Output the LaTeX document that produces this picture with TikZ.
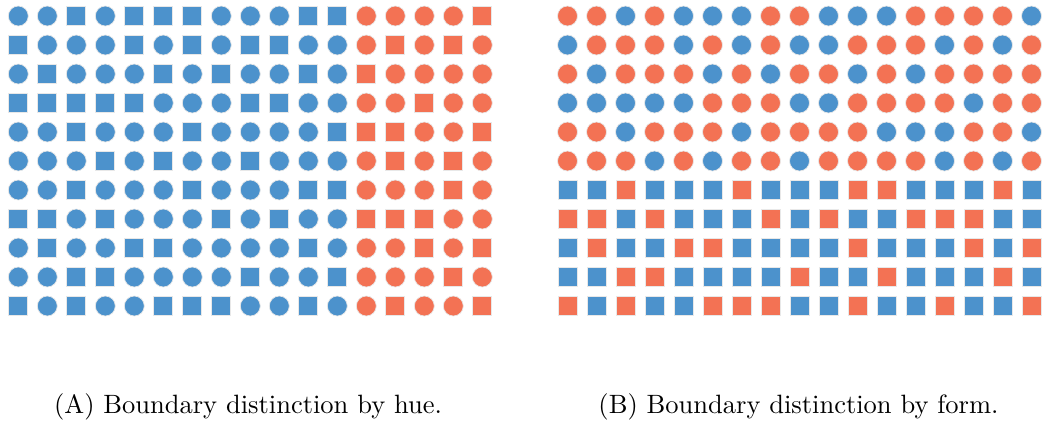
\documentclass[tikz,border=0pt]{standalone}
\usepackage{fontspec}
\setmainfont{lmroman10-regular.otf}
\usepackage{tikz}
\definecolor{hueblue}{RGB}{76,146,204}
\definecolor{hueorange}{RGB}{243,114,84}

\begin{document}
\begin{tikzpicture}[x=1pt, y=-1pt,
        shpC/.style={circle, inner sep=0pt, minimum size=20pt, draw=black!9, line width=0.7pt},
        shpS/.style={rectangle, inner sep=0pt, minimum size=19pt, draw=black!9, line width=0.7pt},
        colB/.style={fill=hueblue},
        colO/.style={fill=hueorange},
        caption/.style={anchor=base, font=\fontsize{26.5}{30}\selectfont}]
        \useasboundingbox (0,0) rectangle (1045,424);

        % (A) hue splits the field, form is random
        \foreach \line [count=\r] in {
            {C,C,S,C,S,S,S,C,C,C,S,S,C,C,C,C,S},
            {S,C,C,C,S,C,S,C,S,S,C,C,C,S,C,S,C},
            {C,S,C,C,C,S,C,S,C,C,S,C,S,C,C,C,C},
            {S,S,S,S,S,C,C,C,S,S,C,C,C,C,S,C,C},
            {C,C,S,C,C,C,S,C,C,C,C,S,S,S,C,C,S},
            {C,C,C,S,C,S,C,C,S,C,C,C,C,S,C,S,C},
            {C,C,S,C,C,C,S,C,C,C,S,S,C,C,C,S,C},
            {S,S,C,S,C,C,C,S,C,S,C,C,S,S,S,C,C},
            {C,S,C,C,S,S,C,C,C,C,S,C,C,C,S,C,S},
            {C,C,S,S,C,C,C,C,S,C,C,S,C,C,C,S,C},
            {S,C,S,C,C,S,S,S,C,C,S,C,C,S,C,C,S}} {
            \foreach \s [count=\c] in \line {
                \ifnum\c>12 \def\col{O}\else\def\col{B}\fi
                \node[shp\s, col\col] (a-\r-\c) at ({18.3+29*(\c-1)}, {16+29*(\r-1)}) {};
            }
        }

        % (B) form splits the field, hue is random
        \foreach \line [count=\r] in {
            {O,O,B,O,B,B,B,O,O,B,B,B,O,O,O,O,B},
            {B,O,O,O,B,O,B,O,B,B,O,O,O,B,O,B,O},
            {O,B,O,O,O,B,O,B,O,O,B,O,B,O,O,O,O},
            {B,B,B,B,B,O,O,O,B,B,O,O,O,O,B,O,O},
            {O,O,B,O,O,O,B,O,O,O,O,B,B,B,O,O,B},
            {O,O,O,B,O,B,O,O,B,O,O,O,O,B,O,B,O},
            {B,B,O,B,B,B,O,B,B,B,O,O,B,B,B,O,B},
            {O,O,B,O,B,B,B,O,B,O,B,B,O,O,O,B,B},
            {B,O,B,B,O,O,B,B,B,B,O,B,B,B,O,B,O},
            {B,B,O,O,B,B,B,B,O,B,B,O,B,B,B,O,B},
            {O,B,O,B,B,O,O,O,B,B,O,B,B,O,B,B,O}} {
            \foreach \k [count=\c] in \line {
                \ifnum\r>6 \def\shp{S}\else\def\shp{C}\fi
                \node[shp\shp, col\k] (b-\r-\c) at ({567.5+29*(\c-1)}, {16+29*(\r-1)}) {};
            }
        }

        \node[caption] (capA) at (248,413) {(A) Boundary distinction by hue.};
        \node[caption] (capB) at (798.5,413) {(B) Boundary distinction by form.};
    \end{tikzpicture}
\end{document}
